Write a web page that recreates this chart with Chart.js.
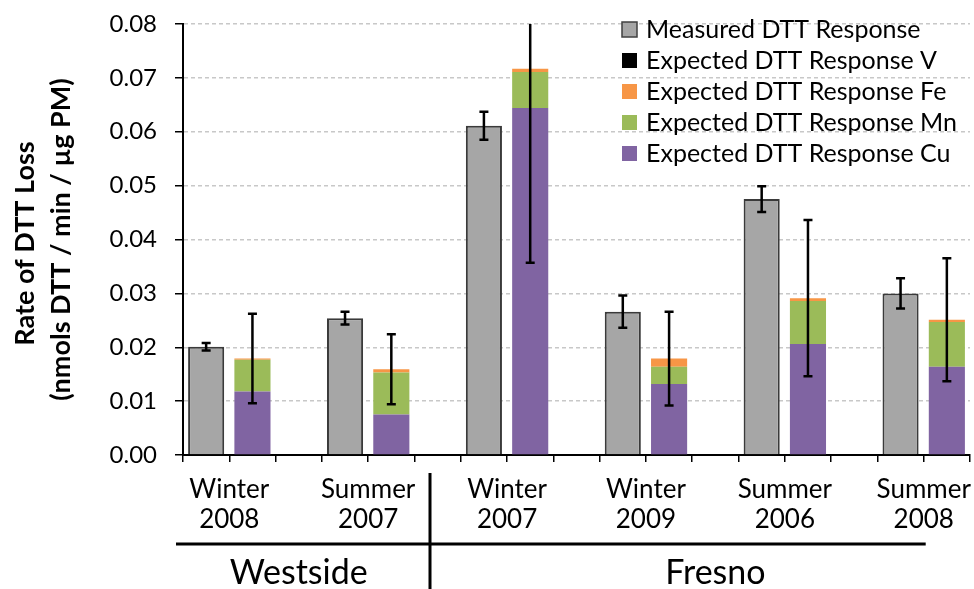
<!DOCTYPE html>
<html>
<head>
<meta charset="utf-8">
<script src="https://cdn.jsdelivr.net/npm/chart.js@4.4.1/dist/chart.umd.min.js"></script>
<style>
  html, body { margin: 0; padding: 0; background: #fff; }
  #wrap { width: 974px; height: 589px; position: relative; }
</style>
</head>
<body>
<div id="wrap"><canvas id="dttChart"></canvas></div>
<script>
// Sampling periods, grouped by site
const seasons = ['Winter', 'Summer', 'Winter', 'Winter', 'Summer', 'Summer'];
const years = ['2008', '2007', '2007', '2009', '2006', '2008'];
const sites = ['Westside', 'Fresno'];
const siteGroups = [2, 4];

// Measured DTT response and its error
const measured = [0.0201, 0.0254, 0.0611, 0.0266, 0.0475, 0.0300];
const measuredErr = [0.0007, 0.0012, 0.0026, 0.0030, 0.0024, 0.0028];

// Expected DTT response, by metal (stacked)
const expCu = [0.0118, 0.0075, 0.0644, 0.0132, 0.0206, 0.0164];
const expMn = [0.0059, 0.0078, 0.0067, 0.0032, 0.0080, 0.0083];
const expFe = [0.0002, 0.0006, 0.0006, 0.0015, 0.0005, 0.0004];
const expV = [0.0000, 0.0000, 0.0000, 0.0000, 0.0000, 0.0000];
const expectedErr = [0.0083, 0.0065, 0.0360, 0.0087, 0.0145, 0.0114];

const yTicks = [0, 0.01, 0.02, 0.03, 0.04, 0.05, 0.06, 0.07, 0.08];

const FONT = 'Lato, "Open Sans", sans-serif';
const colors = {
    measured: '#a6a6a6',
    v: '#000000',
    fe: '#f79646',
    mn: '#9bbb59',
    cu: '#8064a2'
};

// each period takes 3 slots: measured, expected, gap (no gap after the last)
const SLOTS = seasons.length * 3 - 1;
function toSlots(values, offset) {
    const out = new Array(SLOTS).fill(null);
    values.forEach((v, i) => { out[i * 3 + offset] = v; });
    return out;
}

const errorBars = {
    id: 'errorBars',
    afterDatasetsDraw(chart) {
        const { ctx, chartArea, scales: { y } } = chart;
        const mMeta = chart.getDatasetMeta(0);
        const eMeta = chart.getDatasetMeta(1);
        ctx.save();
        ctx.beginPath();
        ctx.rect(chartArea.left, chartArea.top, chartArea.right - chartArea.left, chartArea.bottom - chartArea.top);
        ctx.clip();
        ctx.strokeStyle = '#000';
        ctx.lineWidth = 2.5;
        const draw = (x, val, err) => {
            const top = y.getPixelForValue(val + err);
            const bot = y.getPixelForValue(val - err);
            ctx.beginPath();
            ctx.moveTo(x, top); ctx.lineTo(x, bot);
            ctx.moveTo(x - 4.5, top); ctx.lineTo(x + 4.5, top);
            ctx.moveTo(x - 4.5, bot); ctx.lineTo(x + 4.5, bot);
            ctx.stroke();
        };
        measured.forEach((v, i) => draw(mMeta.data[i * 3].x, v, measuredErr[i]));
        expCu.forEach((v, i) => {
            const total = v + expMn[i] + expFe[i] + expV[i];
            draw(eMeta.data[i * 3 + 1].x, total, expectedErr[i]);
        });
        ctx.restore();
    }
};

const decorations = {
    id: 'decorations',
    afterDraw(chart) {
        const { ctx, chartArea, scales: { x } } = chart;
        ctx.save();
        ctx.fillStyle = '#000';
        ctx.textAlign = 'center';
        ctx.textBaseline = 'middle';

        // period labels, centred between the pair of bars
        ctx.font = '26px ' + FONT;
        const centers = seasons.map((s, i) => (x.getPixelForValue(i * 3) + x.getPixelForValue(i * 3 + 1)) / 2);
        seasons.forEach((s, i) => {
            ctx.fillText(s, centers[i], 490);
            ctx.fillText(years[i], centers[i], 520);
        });

        // site bracket lines
        ctx.strokeStyle = '#000';
        ctx.lineWidth = 3;
        ctx.beginPath();
        ctx.moveTo(176, 544); ctx.lineTo(centers[centers.length - 1] + 2, 544);
        ctx.moveTo(430, 473); ctx.lineTo(430, 589);
        ctx.stroke();

        // site names
        ctx.font = '34px ' + FONT;
        let start = 0;
        siteGroups.forEach((n, k) => {
            const mid = (centers[start] + centers[start + n - 1]) / 2;
            ctx.fillText(sites[k], mid, 573);
            start += n;
        });

        // y axis title
        ctx.save();
        ctx.translate(0, (chartArea.top + chartArea.bottom) / 2);
        ctx.rotate(-Math.PI / 2);
        ctx.font = 'bold 27px ' + FONT;
        ctx.fillText('Rate of DTT Loss', -4, 25);
        ctx.fillText('(nmols DTT / min / \u00b5g PM)', 0, 61);
        ctx.restore();

        // legend
        const items = [
            ['Measured DTT Response', colors.measured, '#404040'],
            ['Expected DTT Response V', colors.v, null],
            ['Expected DTT Response Fe', colors.fe, null],
            ['Expected DTT Response Mn', colors.mn, null],
            ['Expected DTT Response Cu', colors.cu, null]
        ];
        ctx.font = '25px ' + FONT;
        ctx.textAlign = 'left';
        items.forEach((it, i) => {
            const cy = 30 + i * 31;
            ctx.fillStyle = it[1];
            ctx.fillRect(622, cy - 8, 15, 15);
            if (it[2]) {
                ctx.strokeStyle = it[2];
                ctx.lineWidth = 1.5;
                ctx.strokeRect(622, cy - 8, 15, 15);
            }
            ctx.fillStyle = '#000';
            ctx.fillText(it[0], 646, cy);
        });
        ctx.restore();
    }
};

new Chart(document.getElementById('dttChart'), {
    type: 'bar',
    data: {
        labels: new Array(SLOTS).fill(''),
        datasets: [
            {
                label: 'Measured DTT Response',
                data: toSlots(measured, 0),
                backgroundColor: colors.measured,
                borderColor: '#3a3a3a',
                borderWidth: 2,
                stack: 'a'
            },
            { label: 'Expected DTT Response Cu', data: toSlots(expCu, 1), backgroundColor: colors.cu, stack: 'a' },
            { label: 'Expected DTT Response Mn', data: toSlots(expMn, 1), backgroundColor: colors.mn, stack: 'a' },
            { label: 'Expected DTT Response Fe', data: toSlots(expFe, 1), backgroundColor: colors.fe, stack: 'a' },
            { label: 'Expected DTT Response V', data: toSlots(expV, 1), backgroundColor: colors.v, stack: 'a' }
        ]
    },
    options: {
        responsive: true,
        maintainAspectRatio: false,
        animation: false,
        barPercentage: 0.78,
        categoryPercentage: 1,
        layout: { padding: { top: 24, right: 4, left: 0, bottom: 0 } },
        plugins: {
            legend: { display: false },
            tooltip: { enabled: false }
        },
        scales: {
            x: {
                stacked: true,
                ticks: { display: false },
                grid: {
                    drawOnChartArea: false,
                    color: '#000',
                    lineWidth: 1.5,
                    tickLength: 7
                },
                border: { color: '#000', width: 2 },
                afterFit: s => { s.height = 134; }
            },
            y: {
                stacked: true,
                min: 0,
                max: 0.08,
                afterBuildTicks: s => { s.ticks = yTicks.map(v => ({ value: v })); },
                ticks: {
                    color: '#000',
                    font: { family: FONT, size: 24 },
                    padding: 18,
                    callback: v => v.toFixed(2)
                },
                grid: {
                    color: '#c8c8c8',
                    lineWidth: 1.5,
                    tickColor: '#000',
                    tickLength: 8,
                    tickBorderDash: []
                },
                border: { color: '#000', width: 2, dash: [4, 3] },
                afterFit: s => {
                    // keep the plot top at the layout padding, not tick padding
                    s.width = 183;
                    s.paddingTop = 0;
                    s.paddingBottom = 0;
                }
            }
        }
    },
    plugins: [errorBars, decorations]
});
</script>
</body>
</html>
